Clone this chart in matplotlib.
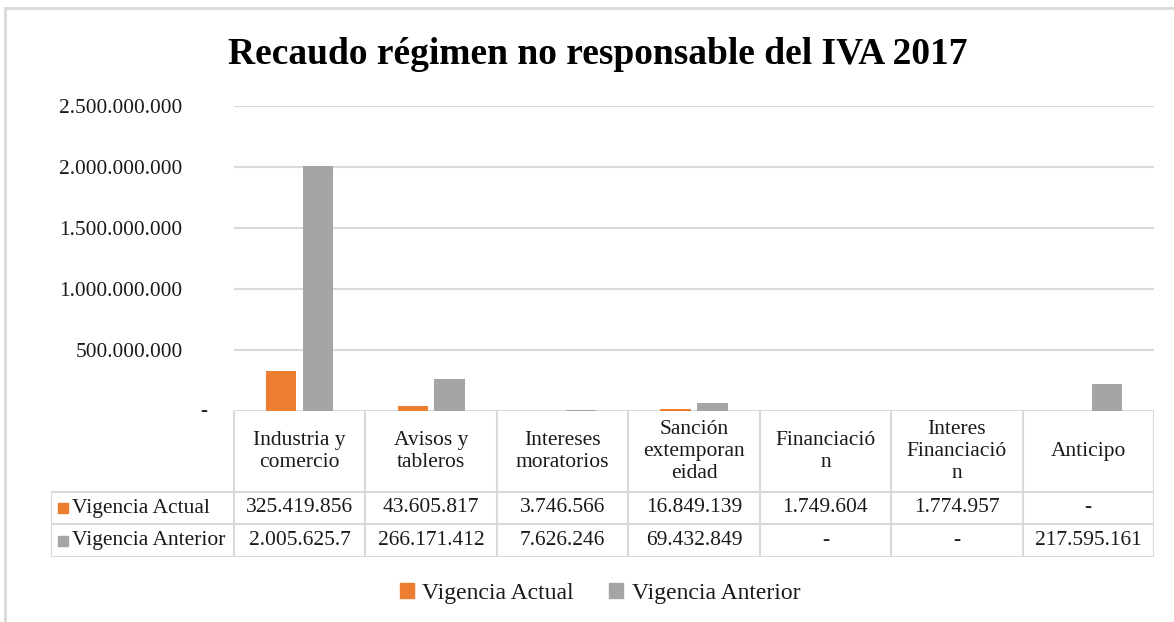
import numpy as np
import matplotlib
matplotlib.use("Agg")
import matplotlib.pyplot as plt
from matplotlib.patches import Patch
from matplotlib.lines import Line2D
import matplotlib.transforms as mtransforms

plt.rcParams['font.family'] = ['Liberation Serif', 'DejaVu Serif']

# datos
categorias = ["Industria y\ncomercio", "Avisos y\ntableros", "Intereses\nmoratorios",
              "Sanción\nextemporan\neidad", "Financiació\nn", "Interes\nFinanciació\nn",
              "Anticipo"]
series = ["Vigencia Actual", "Vigencia Anterior"]
vig_actual = [325419856, 43605817, 3746566, 16849139, 1749604, 1774957, 0]
vig_anterior = [2005625700, 266171412, 7626246, 69432849, 0, 0, 217595161]
colores = ["#ED7D31", "#A5A5A5"]
yticks = [0, 500000000, 1000000000, 1500000000, 2000000000, 2500000000]

W, H = 1174, 622
gris = "#d9d9d9"
txt = "#1a1a1a"


def miles(v):
    return f"{int(v):,}".replace(",", ".")


def celda(v):
    # formato contable de excel, recortado al ancho de la celda
    if v == 0:
        return "-"
    return miles(v)[:11]


fig = plt.figure(figsize=(W / 100, H / 100), dpi=100)

# borde del grafico
fig.add_artist(Line2D([5 / W, 1], [1 - 8 / H, 1 - 8 / H], color=gris, lw=2))
fig.add_artist(Line2D([5 / W, 5 / W], [1 - 8 / H, 0], color=gris, lw=2))

fig.text(598 / W, 1 - 54 / H, "Recaudo régimen no responsable del IVA 2017",
         ha="center", va="center", fontsize=27, fontweight="bold", color="black")

# area de barras
x0, x1, ytop, ybot = 234, 1154, 106, 411
ax = fig.add_axes([x0 / W, 1 - ybot / H, (x1 - x0) / W, (ybot - ytop) / H])
x = np.arange(len(categorias))
ancho = 0.23
ax.bar(x - 0.14, vig_actual, ancho, color=colores[0], zorder=3)
ax.bar(x + 0.14, vig_anterior, ancho, color=colores[1], zorder=3)
ax.set_xlim(-0.5, len(categorias) - 0.5)
ax.set_ylim(0, 2500000000)
ax.set_yticks(yticks)
ax.set_yticklabels(["" if v == 0 else miles(v) for v in yticks], fontsize=15.4, color=txt)
ax.tick_params(axis="y", length=0, pad=37)
ax.set_xticks([])
ax.yaxis.grid(True, color=gris, lw=1.5, zorder=0)
for s in ax.spines.values():
    s.set_visible(False)
tr = mtransforms.blended_transform_factory(fig.transFigure, ax.transData)
ax.text(204 / W, 0, "-", transform=tr, ha="center", va="center", fontsize=15.4, color=txt)

# tabla de datos
n = len(categorias)
cw = (x1 - x0) / n
tl = 51
tb = 557
tax = fig.add_axes([tl / W, 1 - tb / H, (x1 - tl) / W, (tb - ybot) / H])
left = -0.5 - (x0 - tl) / cw
tax.set_xlim(left, n - 0.5)
tax.set_ylim(tb - ybot, 0)
tax.axis("off")
filas = [0, 81, 113, 146]
lk = dict(color=gris, lw=1.5)
for b in np.arange(n + 1) - 0.5:
    tax.plot([b, b], [0, filas[-1]], **lk)
for yy in filas[1:]:
    tax.plot([left, n - 0.5], [yy, yy], **lk)
tax.plot([left, left], [filas[1], filas[-1]], **lk)
for i, c in enumerate(categorias):
    tax.text(i, filas[1] / 2, c, ha="center", va="center", fontsize=15.5,
             color=txt, linespacing=1.18)
for r, (nombre, vals) in enumerate(zip(series, [vig_actual, vig_anterior])):
    yc = (filas[r + 1] + filas[r + 2]) / 2
    tax.add_patch(plt.Rectangle((left + 7 / cw, yc - 5), 10 / cw, 10,
                                color=colores[r]))
    tax.text(left + 21 / cw, yc, nombre, ha="left", va="center", fontsize=15.5, color=txt)
    for i, v in enumerate(vals):
        tax.text(i, yc, celda(v), ha="center", va="center", fontsize=15.5, color=txt)

handles = [Patch(color=colores[0]), Patch(color=colores[1])]
fig.legend(handles, series, loc="center", bbox_to_anchor=(600 / W, 1 - 593 / H),
           ncol=2, frameon=False, fontsize=17, handlelength=0.6, handleheight=0.6,
           handletextpad=0.35, columnspacing=1.5, labelcolor=txt)

fig.savefig("out.png", dpi=100)
